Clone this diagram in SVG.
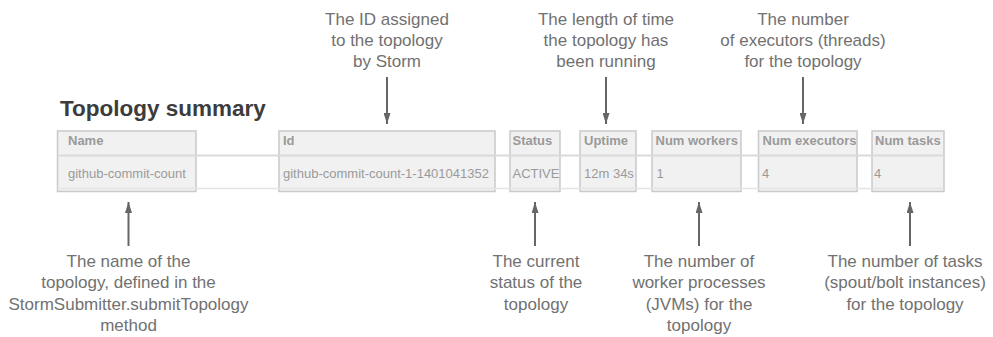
<svg xmlns="http://www.w3.org/2000/svg" width="993" height="337" viewBox="0 0 993 337">
<style>
.title{font-family:"Liberation Sans",Arial,sans-serif;font-weight:bold;font-size:22.5px;fill:#3c3c3c}
.box{fill:#f1f1f1;stroke:#c9c9c9;stroke-width:1.5}
.hdr{font-family:"Liberation Sans",Arial,sans-serif;font-weight:bold;font-size:13px;fill:#9a9a9a}
.val{font-family:"Liberation Sans",Arial,sans-serif;font-size:13px;fill:#9a9a9a}
.note{font-family:"Liberation Sans",Arial,sans-serif;font-size:17px;fill:#717171;text-anchor:middle}
.rule{stroke:#dadada;stroke-width:2}
.rule2{stroke:#e4e4e4;stroke-width:1.5}
.arr{stroke:#666;stroke-width:2;fill:none;marker-end:url(#ah)}
</style>
<defs>
<marker id="ah" markerUnits="userSpaceOnUse" markerWidth="11" markerHeight="7" viewBox="0 0 11 7" refX="11" refY="3.5" orient="auto">
<path d="M0,0 L11,3.5 L0,7 z" fill="#666"/>
</marker>
</defs>
<rect width="993" height="337" fill="#fff"/>
<g id="title"><text class="title" x="60" y="116">Topology summary</text></g>
<g id="table">
<g id="col-name"><rect class="box" x="57.5" y="131" width="138.5" height="60.5"/><text class="hdr" x="68" y="145">Name</text><text class="val" x="68" y="177.5">github-commit-count</text></g>
<g id="col-id"><rect class="box" x="279" y="131" width="216" height="60.5"/><text class="hdr" x="283" y="145">Id</text><text class="val" x="283" y="177.5">github-commit-count-1-1401041352</text></g>
<g id="col-status"><rect class="box" x="510" y="131" width="50" height="60.5"/><text class="hdr" x="512.5" y="145">Status</text><text class="val" x="512.5" y="177.5">ACTIVE</text></g>
<g id="col-uptime"><rect class="box" x="580" y="131" width="56" height="60.5"/><text class="hdr" x="584" y="145">Uptime</text><text class="val" x="584" y="177.5">12m 34s</text></g>
<g id="col-workers"><rect class="box" x="652" y="131" width="89" height="60.5"/><text class="hdr" x="655.5" y="145">Num workers</text><text class="val" x="656.5" y="177.5">1</text></g>
<g id="col-executors"><rect class="box" x="758.5" y="131" width="98.5" height="60.5"/><text class="hdr" x="762.5" y="145">Num executors</text><text class="val" x="762" y="177.5">4</text></g>
<g id="col-tasks"><rect class="box" x="872" y="131" width="72" height="60.5"/><text class="hdr" x="875" y="145">Num tasks</text><text class="val" x="874" y="177.5">4</text></g>
<line class="rule" x1="57.5" y1="155.5" x2="944" y2="155.5"/>
<line class="rule2" x1="57.5" y1="188.5" x2="944" y2="188.5"/>
</g>
<g id="note-id"><text class="note" y="25"><tspan x="387">The ID assigned</tspan><tspan x="387" dy="21">to the topology</tspan><tspan x="387" dy="21">by Storm</tspan></text></g>
<g id="note-uptime"><text class="note" y="25"><tspan x="606">The length of time</tspan><tspan x="606" dy="21">the topology has</tspan><tspan x="606" dy="21">been running</tspan></text></g>
<g id="note-executors"><text class="note" y="25"><tspan x="803">The number</tspan><tspan x="803" dy="21">of executors (threads)</tspan><tspan x="803" dy="21">for the topology</tspan></text></g>
<g id="note-name"><text class="note" y="267"><tspan x="128.5">The name of the</tspan><tspan x="128.5" dy="21.4">topology, defined in the</tspan><tspan x="128.5" dy="21.4">StormSubmitter.submitTopology</tspan><tspan x="128.5" dy="21.4">method</tspan></text></g>
<g id="note-status"><text class="note" y="267"><tspan x="536">The current</tspan><tspan x="536" dy="21.4">status of the</tspan><tspan x="536" dy="21.4">topology</tspan></text></g>
<g id="note-workers"><text class="note" y="267"><tspan x="699">The number of</tspan><tspan x="699" dy="21.4">worker processes</tspan><tspan x="699" dy="21.4">(JVMs) for the</tspan><tspan x="699" dy="21.4">topology</tspan></text></g>
<g id="note-tasks"><text class="note" y="267"><tspan x="905">The number of tasks</tspan><tspan x="905" dy="21.4">(spout/bolt instances)</tspan><tspan x="905" dy="21.4">for the topology</tspan></text></g>
<g id="connectors">
<line class="arr" x1="387" y1="77" x2="387" y2="124"/>
<line class="arr" x1="606" y1="77" x2="606" y2="124"/>
<line class="arr" x1="803" y1="77" x2="803" y2="124"/>
<line class="arr" x1="128.5" y1="246" x2="128.5" y2="202"/>
<line class="arr" x1="535" y1="246" x2="535" y2="202"/>
<line class="arr" x1="699" y1="246" x2="699" y2="202"/>
<line class="arr" x1="910" y1="246" x2="910" y2="202"/>
</g>
</svg>
